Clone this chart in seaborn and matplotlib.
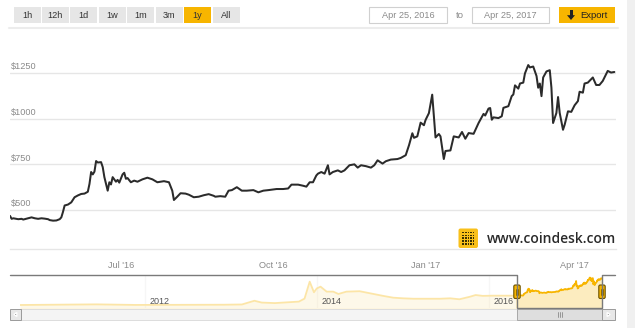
import numpy as np
import pandas as pd
import matplotlib
matplotlib.use("Agg")
import matplotlib.pyplot as plt
import matplotlib.dates as mdates
import seaborn as sns
from matplotlib.patches import FancyBboxPatch, Rectangle, Polygon

# ---------------- data ----------------
start_date = "2016-04-25"
main_day = [0, 1, 2, 5, 7, 8, 11, 13, 15, 17, 19, 21, 23, 24, 26, 28, 30, 31, 32, 33, 35, 37, 39, 41, 43, 45,
            47, 48, 49, 50, 51, 52, 53, 55, 56, 57, 59, 60, 61, 62, 64, 65, 66, 68, 69, 70, 71, 73, 75, 77, 80,
            83, 86, 89, 91, 93, 96, 98, 99, 101, 103, 106, 108, 111, 114, 117, 120, 123, 124, 127, 130, 132,
            134, 137, 140, 143, 147, 150, 153, 156, 161, 165, 168, 170, 174, 177, 179, 181, 183, 185, 186,
            188, 190, 192, 193, 195, 198, 200, 202, 205, 208, 210, 212, 215, 218, 220, 222, 225, 227, 230,
            234, 236, 239, 241, 243, 244, 246, 248, 250, 251, 253, 255, 257, 259, 260, 262, 263, 266, 268,
            271, 273, 275, 277, 280, 283, 286, 287, 289, 290, 291, 292, 295, 297, 298, 301, 303, 304, 305,
            307, 308, 310, 311, 313, 314, 316, 318, 319, 320, 321, 322, 324, 326, 327, 328, 330, 331, 332,
            334, 335, 337, 339, 341, 343, 344, 346, 347, 349, 352, 354, 356, 358, 361, 363, 365]
main_price = [468, 452, 455, 450, 452, 448, 455, 460, 455, 452, 455, 453, 450, 445, 442, 443, 450, 460, 490,
              525, 530, 542, 570, 580, 588, 590, 600, 643, 708, 695, 710, 768, 760, 762, 735, 680, 606, 652,
              640, 680, 655, 665, 650, 695, 704, 671, 675, 652, 661, 655, 668, 677, 668, 652, 655, 658, 652,
              606, 555, 573, 592, 590, 584, 570, 573, 581, 587, 578, 573, 576, 573, 606, 609, 625, 606, 606,
              609, 597, 606, 609, 615, 615, 618, 639, 639, 633, 628, 652, 652, 689, 699, 708, 699, 745, 695,
              708, 717, 708, 717, 745, 750, 732, 745, 740, 732, 745, 772, 754, 767, 776, 779, 785, 800, 855,
              920, 895, 903, 978, 964, 993, 1030, 1131, 897, 916, 903, 779, 823, 826, 903, 897, 927, 890, 921,
              917, 976, 1026, 1017, 1055, 1058, 994, 1007, 1003, 1013, 1059, 1068, 1123, 1132, 1182, 1164,
              1192, 1197, 1247, 1293, 1280, 1285, 1233, 1169, 1192, 1123, 1225, 1258, 1265, 1169, 976, 1031,
              1118, 1031, 939, 967, 1040, 1037, 1073, 1096, 1147, 1142, 1192, 1197, 1225, 1184, 1184, 1206,
              1261, 1252, 1255]

hist_date = ["2010-07-18", "2011-06-08", "2011-11-20", "2012-06-01", "2012-12-01", "2013-02-15",
             "2013-04-09", "2013-05-10", "2013-07-05", "2013-09-01", "2013-10-15", "2013-11-08",
             "2013-11-30", "2013-12-18", "2013-12-30", "2014-01-15", "2014-02-10", "2014-03-10",
             "2014-04-01", "2014-05-05", "2014-06-30", "2014-08-28", "2014-10-08", "2014-11-20",
             "2015-01-01", "2015-02-15", "2015-04-10", "2015-06-05", "2015-07-20", "2015-08-28",
             "2015-10-12", "2015-11-05", "2015-12-05", "2016-01-20", "2016-04-12"]
hist_price = [0.1, 30, 3, 6, 13, 25, 200, 115, 90, 130, 160, 300, 1100, 600, 780, 865, 630, 630, 520,
              630, 650, 520, 430, 345, 315, 295, 295, 295, 315, 270, 390, 470, 430, 440, 440]

y_ticks = [500, 750, 1000, 1250]
x_ticks = ["2016-07-01", "2016-10-01", "2017-01-01", "2017-04-01"]
x_tick_labels = ["Jul '16", "Oct '16", "Jan '17", "Apr '17"]
nav_years = ["2012", "2014", "2016"]
range_buttons = ["1h", "12h", "1d", "1w", "1m", "3m", "1y", "All"]
selected_button = "1y"
date_from = "Apr 25, 2016"
date_to = "Apr 25, 2017"
end_date = "2017-04-25"

# ---------------- style ----------------
sns.set_theme(style="white")
plt.rcParams['font.family'] = ['Liberation Sans', 'DejaVu Sans']

W, H = 635, 328
YEL = "#f7b500"
fig = plt.figure(figsize=(W / 100, H / 100), dpi=100)
fig.patch.set_facecolor("white")


def box(x0, y0, x1, y1):
    return [x0 / W, 1 - y1 / H, (x1 - x0) / W, (y1 - y0) / H]


start = pd.Timestamp(start_date)
end = pd.Timestamp(end_date)
df = pd.DataFrame({"date": start + pd.to_timedelta(main_day, unit="D"), "price": main_price})

# ---------------- main chart ----------------
ax = fig.add_axes(box(10, 40, 616, 249))
sns.lineplot(data=df, x="date", y="price", ax=ax, color="#2b2b2b", linewidth=1.45)
ax.set_xlim(start, start + pd.Timedelta(days=366))
ax.set_ylim(287, 1430)
ax.set_yticks(y_ticks)
ax.yaxis.grid(True, color="#e6e6e6", linewidth=1)
ax.xaxis.grid(False)
ax.tick_params(axis="y", length=0, labelleft=False)
for v in y_ticks:
    ax.annotate(f"${v}", xy=(0, v), xycoords=ax.get_yaxis_transform(), xytext=(1, 1.2),
                textcoords="offset points", ha="left", va="bottom", fontsize=6.6, color="#8a8a8a")
ax.set_xticks(pd.to_datetime(x_ticks))
ax.set_xticklabels(x_tick_labels)
ax.tick_params(axis="x", length=0, pad=8.3, labelsize=6.6, colors="#8a8a8a")
ax.set_xlabel("")
ax.set_ylabel("")
for s in ["top", "left", "right"]:
    ax.spines[s].set_visible(False)
ax.spines["bottom"].set_color("#e6e6e6")
ax.spines["bottom"].set_linewidth(1)

# ---------------- navigator ----------------
nav_df = pd.concat([
    pd.DataFrame({"date": pd.to_datetime(hist_date), "price": hist_price}),
    df,
], ignore_index=True)
nav = fig.add_axes(box(20, 275, 602, 308))
nav_lo = -141
for yr in nav_years:
    t = pd.Timestamp(yr + "-01-01")
    nav.axvline(t, color="#e6e6e6", linewidth=1, zorder=0)
    nav.annotate(yr, xy=(mdates.date2num(t), 0.2), xycoords=nav.get_xaxis_transform(),
                 xytext=(3, 0), textcoords="offset points", ha="left", va="center",
                 fontsize=6.5, color="#555555", zorder=5)
nav.fill_between(nav_df["date"], nav_df["price"], nav_lo, color=YEL, alpha=0.25, linewidth=0, zorder=1)
sns.lineplot(data=nav_df, x="date", y="price", ax=nav, color=YEL, linewidth=1.3, zorder=2)
nav.set_xlim(pd.Timestamp(hist_date[0]), end)
nav.set_ylim(nav_lo, 1415)
nav.axvspan(pd.Timestamp(hist_date[0]), start, color="white", alpha=0.66, linewidth=0, zorder=3)
nav.axis("off")

# ---------------- decorations (pixel coords) ----------------
deco = fig.add_axes([0, 0, 1, 1], zorder=10)
deco.set_xlim(0, W)
deco.set_ylim(H, 0)
deco.axis("off")
deco.patch.set_alpha(0)

# right side strip
deco.add_patch(Rectangle((627, 0), 8, H, facecolor="#f0f0f0", edgecolor="none"))
# separator under toolbar
deco.plot([9, 618], [27.5, 27.5], color="#ececec", linewidth=1.5)

# range buttons
for i, lab in enumerate(range_buttons):
    cx = 27 + i * 28.45
    fc = YEL if lab == selected_button else "#e6e6e6"
    deco.add_patch(Rectangle((cx - 13.5, 7), 27, 16, facecolor=fc, edgecolor="none"))
    deco.text(cx, 15.3, lab, ha="center", va="center", fontsize=6.6, color="#333333")

# date inputs
for (x0, x1, lab) in [(369, 447, date_from), (472, 549, date_to)]:
    deco.add_patch(Rectangle((x0, 7), x1 - x0, 16, facecolor="white", edgecolor="#d0d0d0", linewidth=0.8))
    deco.text((x0 + x1) / 2, 15.3, lab, ha="center", va="center", fontsize=6.6, color="#8a8a8a")
deco.text(459.5, 15.8, "to", ha="center", va="center", fontsize=6.8, color="#8a8a8a")

# export button
deco.add_patch(Rectangle((559, 7), 56, 16, facecolor=YEL, edgecolor="none"))
deco.add_patch(Rectangle((569.5, 10), 3, 5.5, facecolor="#222222", edgecolor="none"))
deco.add_patch(Polygon([(567, 15.2), (575, 15.2), (571, 20)], closed=True, facecolor="#222222",
                       edgecolor="none"))
deco.text(594, 15.3, "Export", ha="center", va="center", fontsize=6.8, color="#222222")

# coindesk logo
deco.add_patch(FancyBboxPatch((458.5, 228.5), 19.5, 19.5, boxstyle="round,pad=0,rounding_size=2",
                              facecolor="#f9c01a", edgecolor="none"))
for r in range(5):
    for c in range(5):
        deco.add_patch(Rectangle((462.3 + c * 2.6, 231.6 + r * 2.9), 1.6, 1.7, facecolor="#3a3000",
                                 edgecolor="none"))
deco.text(486.5, 238.8, "www.coindesk.com", ha="left", va="center", fontsize=10,
          color="#2a2a2a", family=["Open Sans", "DejaVu Sans"], fontweight="semibold")

# navigator outline
deco.plot([10, 517, 517, 602, 602, 615], [275, 275, 308, 308, 275, 275], color="#7a7a7a", linewidth=1)

# scrollbar
deco.add_patch(Rectangle((21, 309), 581, 11, facecolor="#f4f4f4", edgecolor="#dddddd", linewidth=0.7))
deco.add_patch(Rectangle((10, 309), 11, 11, facecolor="#e8e8e8", edgecolor="#9a9a9a", linewidth=0.7))
deco.add_patch(Polygon([(16.8, 312.5), (16.8, 316.5), (14, 314.5)], closed=True, facecolor="#444444"))
deco.add_patch(Rectangle((517, 309), 85, 11, facecolor="#dedede", edgecolor="#a8a8a8", linewidth=0.7))
for gx in (558, 560, 562):
    deco.plot([gx, gx], [312, 317], color="#8a8a8a", linewidth=0.6)
deco.add_patch(Rectangle((602, 309), 13, 11, facecolor="#e8e8e8", edgecolor="#9a9a9a", linewidth=0.7))
deco.add_patch(Polygon([(607.2, 312.5), (607.2, 316.5), (610, 314.5)], closed=True, facecolor="#444444"))

# navigator handles
for hx in (517, 602):
    deco.add_patch(FancyBboxPatch((hx - 3.2, 285), 6.4, 13.5, boxstyle="round,pad=0,rounding_size=1.5",
                                  facecolor=YEL, edgecolor="#6b5200", linewidth=0.8))
    deco.plot([hx - 0.9, hx - 0.9], [288.5, 295], color="#6b5200", linewidth=0.5)
    deco.plot([hx + 0.9, hx + 0.9], [288.5, 295], color="#6b5200", linewidth=0.5)

fig.savefig("out.png", dpi=100)
